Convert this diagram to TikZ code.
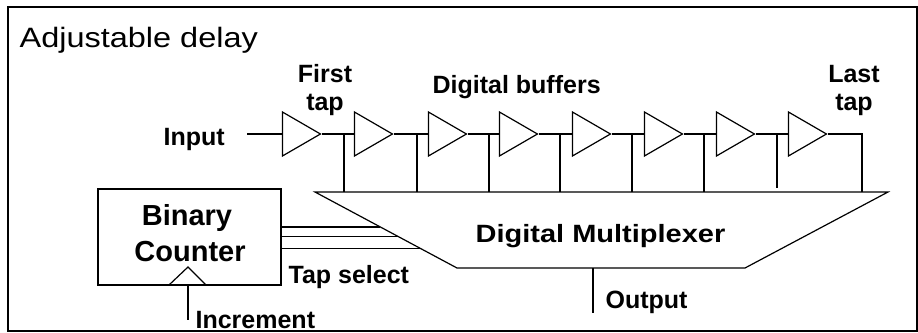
\documentclass[tikz,border=0pt]{standalone}
\usepackage{fontspec}
\setmainfont{Liberation Sans}
\newfontfamily\widefont[FakeStretch=1.16]{Liberation Sans}
\usetikzlibrary{calc,shapes.geometric}
\tikzset{
	buf/.style={draw, isosceles triangle, isosceles triangle stretches, minimum width=44, minimum height=38, inner sep=0, anchor=apex, line width=1.2},
	lbl/.style={anchor=base west, inner sep=0, font=\bfseries\fontsize{25}{28}\selectfont},
	mid/.style={lbl, anchor=base},
}

\begin{document}
\begin{tikzpicture}[x=1pt, y=-1pt, line width=1.2]
			%%%%% START %%%%%
			\useasboundingbox (0,0) rectangle (918,332);
			\draw[line width=2] (8,7) rectangle (917,331);
			\node[anchor=base west, inner sep=0, font=\widefont\fontsize{28}{32}\selectfont] (title) at (19,47) {Adjustable delay};
			
			%% buffer chain
			\coordinate (in) at (247,134);
			\node[lbl] (input) at (163,145) {Input};
			\node[buf] (b1) at (322,134) {};
			\node[buf] (b2) at (394,134) {};
			\node[buf] (b3) at (468,134) {};
			\node[buf] (b4) at (539,134) {};
			\node[buf] (b5) at (612,134) {};
			\node[buf] (b6) at (684,134) {};
			\node[buf] (b7) at (756,134) {};
			\node[buf] (b8) at (828,134) {};
			\draw (in) -- (b1.west);
			\draw (b1.apex) -- (b2.west);
			\draw (b2.apex) -- (b3.west);
			\draw (b3.apex) -- (b4.west);
			\draw (b4.apex) -- (b5.west);
			\draw (b5.apex) -- (b6.west);
			\draw (b6.apex) -- (b7.west);
			\draw (b7.apex) -- (b8.west);
			
			\node[mid] (first) at (325,82) {First};
			\node[mid] (firsttap) at (325,110) {tap};
			\node[lbl] (buffers) at (432,93) {Digital buffers};
			\node[mid] (last) at (854,82) {Last};
			\node[mid] (lasttap) at (854,110) {tap};
			
			%% multiplexer
			\coordinate (mtl) at (315,192);
			\coordinate (mtr) at (888,192);
			\coordinate (mbr) at (745,268);
			\coordinate (mbl) at (457,268);
			\draw (mtl) -- (mtr) -- (mbr) -- (mbl) -- cycle;
			\node[anchor=base west, inner sep=0, font=\widefont\bfseries\fontsize{25}{30}\selectfont] (muxlbl) at (475,242) {Digital Multiplexer};
			
			%% taps
			\coordinate (t1) at (344,134);
			\coordinate (t2) at (417,134);
			\coordinate (t3) at (489,134);
			\coordinate (t4) at (560,134);
			\coordinate (t5) at (632,134);
			\coordinate (t6) at (704,134);
			\coordinate (t7) at (777,134);
			\coordinate (t8) at (862,134);
			\draw (t1) -- (t1 |- mtl);
			\draw (t2) -- (t2 |- mtl);
			\draw (t3) -- (t3 |- mtl);
			\draw (t4) -- (t4 |- mtl);
			\draw (t5) -- (t5 |- mtl);
			\draw (t6) -- (t6 |- mtl);
			\draw (t7) -- ($(t7 |- mtl)+(0,-4)$);
			\draw (b8.apex) -- (t8) -- (t8 |- mtl);
			
			\coordinate (out) at (593,313);
			\draw (out |- mbl) -- (out);
			\node[lbl] (output) at (605,308) {Output};
			
			%% counter
			\node[draw, minimum width=183, minimum height=96, inner sep=0] (cnt) at (189.5,237) {};
			\node[anchor=base, inner sep=0, font=\bfseries\fontsize{29}{32}\selectfont] (binary) at (187,225) {Binary};
			\node[anchor=base, inner sep=0, font=\bfseries\fontsize{29}{32}\selectfont] (counter) at (190,261) {Counter};
			\coordinate (clk) at (188,285);
			\draw ($(clk)+(-19,0)$) -- ($(clk)+(0,-18)$) -- ($(clk)+(18,0)$);
			\coordinate (inc) at (188,320);
			\draw (clk) -- (inc);
			\node[lbl] (incr) at (195,328) {Increment};
			
			\coordinate (s1) at ($(mtl)!0.46!(mbl)$);
			\coordinate (s2) at ($(mtl)!0.59!(mbl)$);
			\coordinate (s3) at ($(mtl)!0.74!(mbl)$);
			\draw (cnt.east |- s1) -- (s1);
			\draw (cnt.east |- s2) -- (s2);
			\draw (cnt.east |- s3) -- (s3);
			\node[lbl] (tapsel) at (288,283) {Tap select};
			%%%%% END %%%%%
		\end{tikzpicture}
\end{document}
